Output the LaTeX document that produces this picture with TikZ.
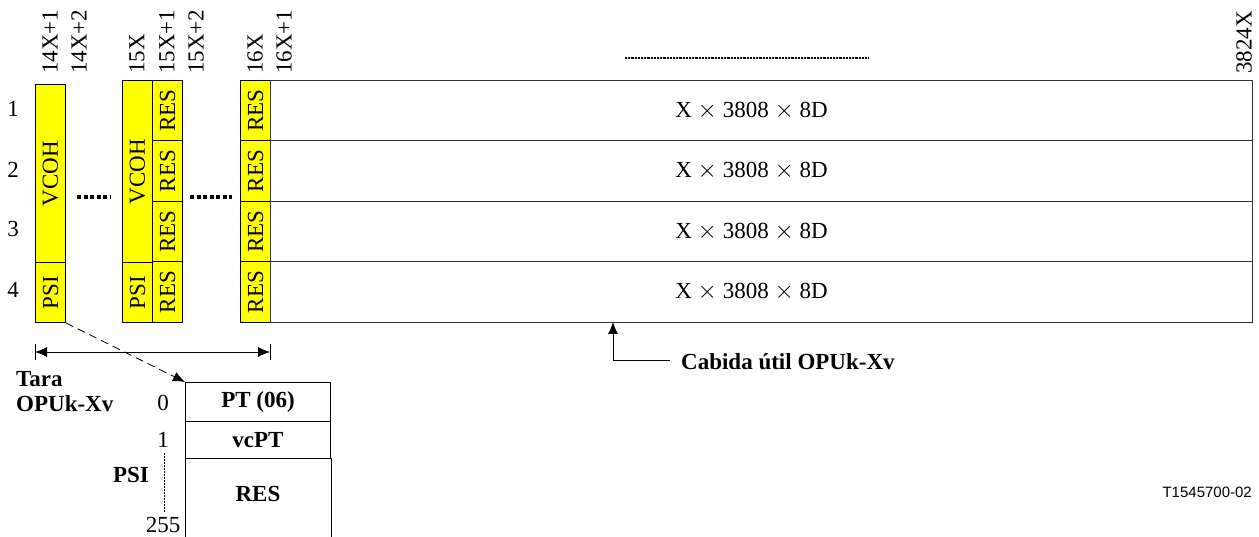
\documentclass[tikz,border=0pt]{standalone}
\usepackage{fontspec}
\setmainfont{Liberation Serif}
\newfontfamily\refsans{Liberation Sans}
\usepackage{xcolor}
\definecolor{ohyellow}{HTML}{FFFF00}
\definecolor{linegray}{HTML}{333333}
\usepackage{tikz}
\usetikzlibrary{arrows.meta, positioning, calc}
\tikzstyle{ohcell} = [
  rectangle, draw=black, line width=1pt, fill=ohyellow,
  inner sep=0pt, minimum width=30pt, anchor=north west
]
\tikzstyle{paycell} = [
  rectangle, draw=linegray, line width=1pt,
  inner sep=0pt, minimum width=982pt, minimum height=60.5pt, anchor=north west
]
\tikzstyle{psicell} = [
  rectangle, draw=black, line width=1pt,
  inner sep=0pt, minimum width=145pt, anchor=north west,
  font=\fontsize{23}{25}\selectfont\bfseries
]
\tikzstyle{collabel} = [rotate=90, anchor=west, inner sep=0pt]
\tikzstyle{rowlabel} = [inner sep=0pt]
\tikzstyle{arrow} = [
  {Latex[length=12pt,width=10pt]}-, line width=0.8pt, color=black
]
\tikzstyle{dimarrow} = [
  {Latex[length=12pt,width=10pt]}-{Latex[length=12pt,width=10pt]},
  line width=0.8pt, color=black
]
\tikzstyle{dashedarrow} = [
  -{Latex[length=12pt,width=10pt]}, dash pattern=on 8pt off 5pt,
  line width=0.8pt, color=black
]

\begin{document}
\begin{tikzpicture}[x=1pt, y=-1pt,
                    every node/.style={font=\fontsize{23}{25}\selectfont}]
  \useasboundingbox (0,0) rectangle (1259,537);

  % column numbers
  \node[collabel] (c14a) at (50,74)   {14X+1};
  \node[collabel] (c14b) at (79,74)   {14X+2};
  \node[collabel] (c15a) at (137,74)  {15X};
  \node[collabel] (c15b) at (167,74)  {15X+1};
  \node[collabel] (c15c) at (196,74)  {15X+2};
  \node[collabel] (c16a) at (255,74)  {16X};
  \node[collabel] (c16b) at (284,74)  {16X+1};
  \node[collabel] (c3824) at (1244,74) {3824X};

  % row numbers
  \foreach \r/\y in {1/109, 2/170, 3/229, 4/290}
    \node[rowlabel] (row\r) at (13,\y) {\r};

  % overhead column 14X+1
  \node[ohcell, minimum height=178pt] (vcoha) at (35,84)  {\rotatebox{90}{VCOH}};
  \node[ohcell, minimum height=60pt]  (psia)  at (35,262) {\rotatebox{90}{PSI}};

  % overhead columns 15X and 15X+1
  \node[ohcell, minimum height=182pt] (vcohb) at (122,80)  {\rotatebox{90}{VCOH}};
  \node[ohcell, minimum height=60pt]  (psib)  at (122,262) {\rotatebox{90}{PSI}};
  \foreach \i/\y in {1/80, 2/140.5, 3/201, 4/261.5} {
    \node[ohcell, minimum height=60.5pt] (resb\i) at (152,\y) {\rotatebox{90}{RES}};
    \node[ohcell, minimum height=60.5pt] (resc\i) at (240,\y) {\rotatebox{90}{RES}};
    \node[paycell] (pay\i) at (270,\y) {\hspace*{-20pt}X $\times$ 3808 $\times$ 8D};
  }

  % omitted columns
  \draw[line width=3.5pt, dash pattern=on 4pt off 2.5pt] (77,197) -- (111,197);
  \draw[line width=3.5pt, dash pattern=on 4pt off 2.5pt] (190,197) -- (232,197);
  \draw[line width=2pt, dash pattern=on 2.2pt off 1pt] (625,58) -- (869,58);

  % overhead width
  \coordinate (dimleft)  at (35,352);
  \coordinate (dimright) at (270,352);
  \draw[line width=0.8pt] ($(dimleft)+(0,-8)$) -- ($(dimleft)+(0,8)$);
  \draw[line width=0.8pt] ($(dimright)+(0,-8)$) -- ($(dimright)+(0,8)$);
  \draw[dimarrow] (dimleft) -- (dimright);
  \node[anchor=west, align=left, font=\fontsize{23}{25}\selectfont\bfseries,
        inner sep=0pt] (tara) at (16,392) {Tara\\OPUk-Xv};

  % PSI bytes
  \node[psicell, minimum height=39pt] (pt)   at (185,382) {PT (06)};
  \node[psicell, minimum height=37pt] (vcpt) at (185,421) {vcPT};
  \node[psicell, minimum height=70pt, draw=none] (psires) at (185,458) {RES};
  \draw[line width=1pt] ([yshift=-20pt]psires.south west) -- (psires.north west)
    -- (psires.north east) -- ([yshift=-20pt]psires.south east);
  \node[rowlabel] (idx0)   at (163,403) {0};
  \node[rowlabel] (idx1)   at (163,440) {1};
  \node[rowlabel] (idx255) at (163,525) {255};
  \draw[line width=1pt, dash pattern=on 1.5pt off 1.5pt] (164,453) -- (164,512);
  \node[font=\fontsize{23}{25}\selectfont\bfseries] (psilbl) at (131,475) {PSI};

  \draw[dashedarrow] (psia.south east) -- (pt.north west);

  % payload pointer
  \coordinate (payhit) at (613,322);
  \node[anchor=west, inner sep=0pt, font=\fontsize{23}{25}\selectfont\bfseries]
    (cabida) at (681,362) {Cabida útil OPUk-Xv};
  \draw[arrow] (payhit) |- ([xshift=-11pt, yshift=2pt]cabida.west);

  \node[anchor=east, inner sep=0pt, font=\fontsize{15}{17}\refsans]
    (fignum) at (1252,492) {T1545700-02};
\end{tikzpicture}
\end{document}
